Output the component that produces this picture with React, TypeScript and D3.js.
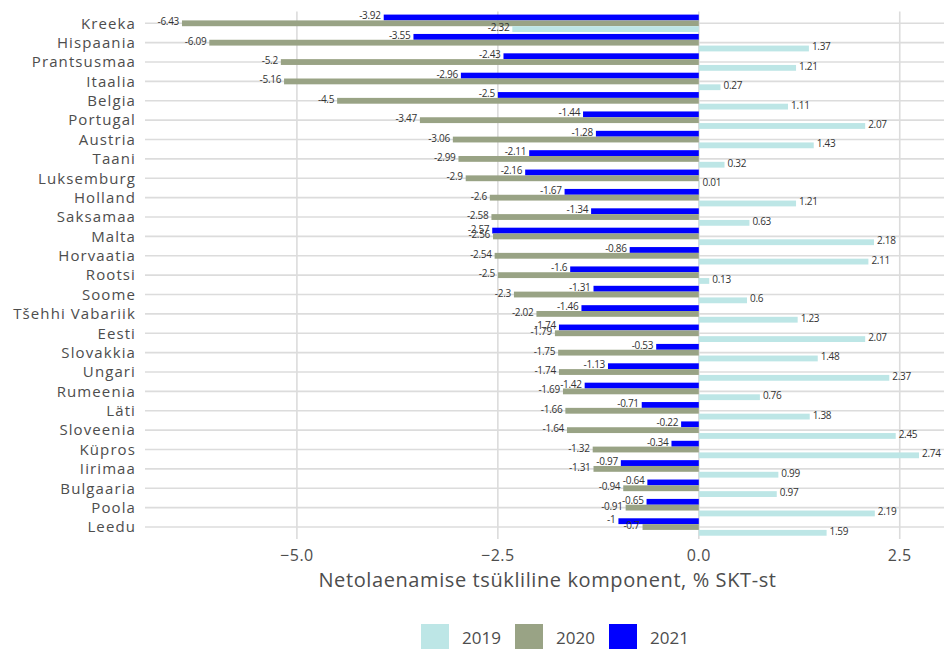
import React from "react";
import * as d3 from "d3";

const countries = [
  "Kreeka", "Hispaania", "Prantsusmaa", "Itaalia", "Belgia", "Portugal", "Austria", "Taani",
  "Luksemburg", "Holland", "Saksamaa", "Malta", "Horvaatia", "Rootsi", "Soome", "Tšehhi Vabariik",
  "Eesti", "Slovakkia", "Ungari", "Rumeenia", "Läti", "Sloveenia", "Küpros", "Iirimaa",
  "Bulgaaria", "Poola", "Leedu",
];
const v2021 = [-3.92, -3.55, -2.43, -2.96, -2.5, -1.44, -1.28, -2.11, -2.16, -1.67, -1.34, -2.57, -0.86, -1.6, -1.31, -1.46, -1.74, -0.53, -1.13, -1.42, -0.71, -0.22, -0.34, -0.97, -0.64, -0.65, -1];
const v2020 = [-6.43, -6.09, -5.2, -5.16, -4.5, -3.47, -3.06, -2.99, -2.9, -2.6, -2.58, -2.56, -2.54, -2.5, -2.3, -2.02, -1.79, -1.75, -1.74, -1.69, -1.66, -1.64, -1.32, -1.31, -0.94, -0.91, -0.7];
const v2019 = [-2.32, 1.37, 1.21, 0.27, 1.11, 2.07, 1.43, 0.32, 0.01, 1.21, 0.63, 2.18, 2.11, 0.13, 0.6, 1.23, 2.07, 1.48, 2.37, 0.76, 1.38, 2.45, 2.74, 0.99, 0.97, 2.19, 1.59];
const years = ["2019", "2020", "2021"];
const xTicks = [-5, -2.5, 0, 2.5];
const xTitle = "Netolaenamise tsükliline komponent, % SKT-st";

const colors: Record<string, string> = { "2019": "#bde6e6", "2020": "#99a385", "2021": "#0000ff" };
const seriesValues: Record<string, number[]> = { "2019": v2019, "2020": v2020, "2021": v2021 };
// order within group from top to bottom
const stackOrder = ["2021", "2020", "2019"];

const W = 944;
const H = 649;
const FONT = "'Open Sans', sans-serif";

export default function App() {
  const x = d3.scaleLinear().domain([-6.89, 3.2]).range([145, 956]);
  const step = 19.38;
  const y = d3
    .scaleBand<string>()
    .domain(countries)
    .range([23.3 - step / 2, 527 + step / 2])
    .padding(0);
  const inner = d3
    .scaleBand<string>()
    .domain(stackOrder)
    .range([step * 0.05, step * 0.95])
    .padding(0);
  const panelTop = 11.5;
  const panelBottom = 539;
  const [x0, x1] = x.range();

  return (
    <svg width={W} height={H} style={{ position: "absolute", left: 0, top: 0, fontFamily: FONT }}>
      <rect x={0} y={0} width={W} height={H} fill="#fff" />
      {xTicks.map((t) => (
        <line key={"vg" + t} x1={x(t)} x2={x(t)} y1={panelTop} y2={panelBottom} stroke="#dcdcdc" strokeWidth={1.6} />
      ))}
      {countries.map((c) => (
        <line
          key={"hg" + c}
          x1={x0}
          x2={x1}
          y1={(y(c) as number) + step / 2}
          y2={(y(c) as number) + step / 2}
          stroke="#dcdcdc"
          strokeWidth={1.6}
        />
      ))}
      {stackOrder.map((yr) =>
        countries.map((c, i) => {
          const v = seriesValues[yr][i];
          const by = (y(c) as number) + (inner(yr) as number);
          const bh = inner.bandwidth();
          return (
            <rect
              key={yr + c}
              x={Math.min(x(0), x(v))}
              y={by}
              width={Math.abs(x(v) - x(0))}
              height={bh}
              fill={colors[yr]}
            />
          );
        })
      )}
      {stackOrder.map((yr) =>
        countries.map((c, i) => {
          const v = seriesValues[yr][i];
          const by = (y(c) as number) + (inner(yr) as number) + inner.bandwidth() / 2 - 1.5;
          const neg = v < 0;
          return (
            <text
              key={"l" + yr + c}
              x={x(v) + (neg ? -3 : 3)}
              y={by}
              dy="0.35em"
              textAnchor={neg ? "end" : "start"}
              fontSize={10}
              fill="#333"
              letterSpacing={-0.3}
            >
              {String(v)}
            </text>
          );
        })
      )}
      {countries.map((c) => (
        <text
          key={"yl" + c}
          x={136}
          y={(y(c) as number) + step / 2}
          dy="0.35em"
          textAnchor="end"
          fontSize={15}
          letterSpacing={1.1}
          fill="#4d4d4d"
        >
          {c}
        </text>
      ))}
      {xTicks.map((t) => (
        <text key={"xt" + t} x={x(t)} y={555} dy="0.35em" textAnchor="middle" fontSize={16} letterSpacing={0.5} fill="#4d4d4d">
          {d3.format(".1f")(t)}
        </text>
      ))}
      <text x={(x0 + x1) / 2 - 3} y={580} dy="0.35em" textAnchor="middle" fontSize={20} letterSpacing={0.6} fill="#4d4d4d">
        {xTitle}
      </text>
      {years.map((yr, i) => {
        const lx = 421 + i * 94;
        return (
          <g key={"lg" + yr}>
            <rect x={lx} y={624} width={28} height={28} fill={colors[yr]} />
            <text x={lx + 41} y={638} dy="0.35em" fontSize={17} fill="#4d4d4d">
              {yr}
            </text>
          </g>
        );
      })}
    </svg>
  );
}
